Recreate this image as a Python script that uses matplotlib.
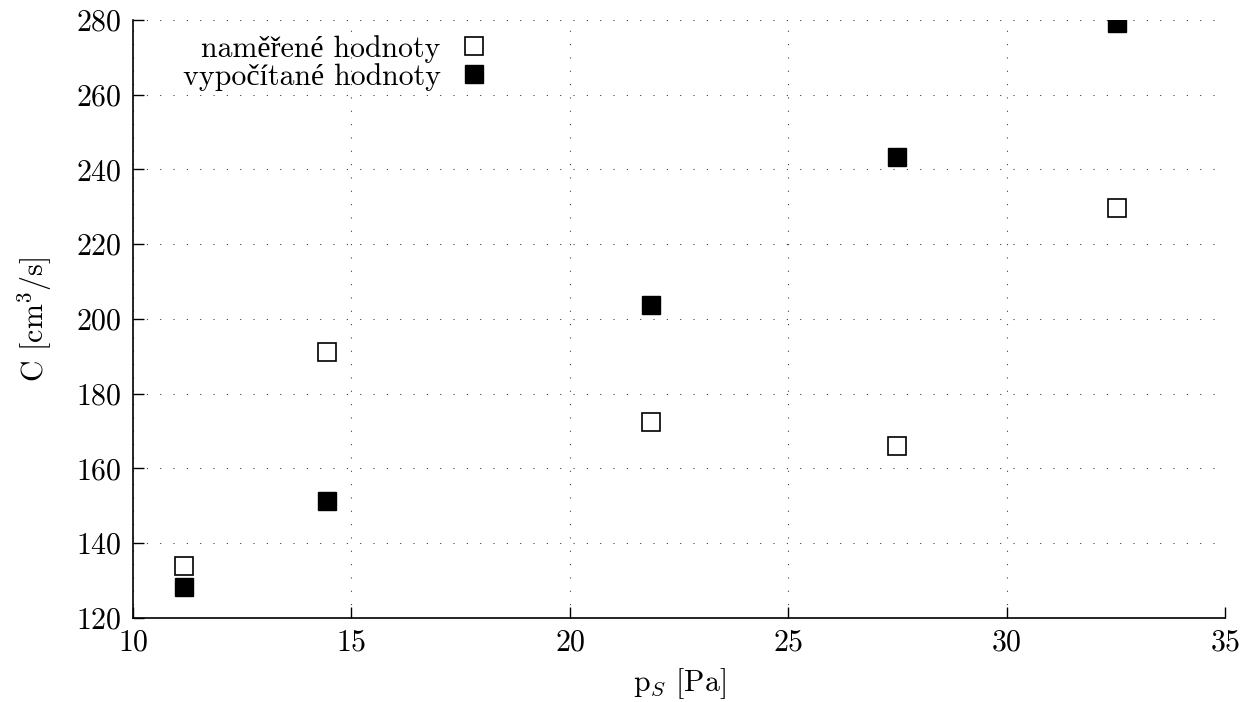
import matplotlib
matplotlib.use("Agg")
import matplotlib.pyplot as plt

# data
p_s = [11.17, 14.44, 21.86, 27.49, 32.53]
c_measured = [133.9, 191.2, 172.4, 166.0, 229.8]
c_computed = [128.2, 151.3, 203.7, 243.4, 279.1]

plt.rcParams['font.family'] = ['cmr10', 'Liberation Serif']
plt.rcParams['mathtext.fontset'] = 'cm'
plt.rcParams['axes.formatter.use_mathtext'] = True

fig = plt.figure(figsize=(12.47, 7.02), dpi=100)
ax = fig.add_axes([0.1067, 0.1197, 0.8757, 0.8518])

ax.plot(p_s, c_measured, linestyle='none', marker='s', markersize=13,
        markerfacecolor='white', markeredgecolor='black', markeredgewidth=1.2,
        label="naměřené hodnoty")
ax.plot(p_s, c_computed, linestyle='none', marker='s', markersize=13,
        markerfacecolor='black', markeredgecolor='black', markeredgewidth=1.0,
        label="vypočítané hodnoty")

ax.set_xlim(10, 35)
ax.set_ylim(120, 280)
ax.set_xticks([10, 15, 20, 25, 30, 35])
ax.set_yticks(range(120, 281, 20))

ax.spines['top'].set_visible(False)
ax.spines['right'].set_visible(False)
ax.spines['left'].set_linewidth(1.2)
ax.spines['bottom'].set_linewidth(1.2)
ax.tick_params(direction='in', length=8, width=1.0, labelsize=21.5, pad=8)
ax.grid(True, linestyle=(0, (1, 11)), color='black', linewidth=0.8, alpha=0.75)
ax.set_axisbelow(True)

ax.set_xlabel("p$_S$ [Pa]", fontsize=21.5, labelpad=7)
ax.set_ylabel("C [cm$^3$/s]", fontsize=21.5, labelpad=16)

ax.legend(loc='upper right', bbox_to_anchor=(0.3233, 0.975), frameon=False,
          markerfirst=False, fontsize=21.5, handlelength=0.8, handletextpad=0.72,
          labelspacing=0.0, borderaxespad=0, borderpad=0)

fig.savefig("out.png", dpi=100)
